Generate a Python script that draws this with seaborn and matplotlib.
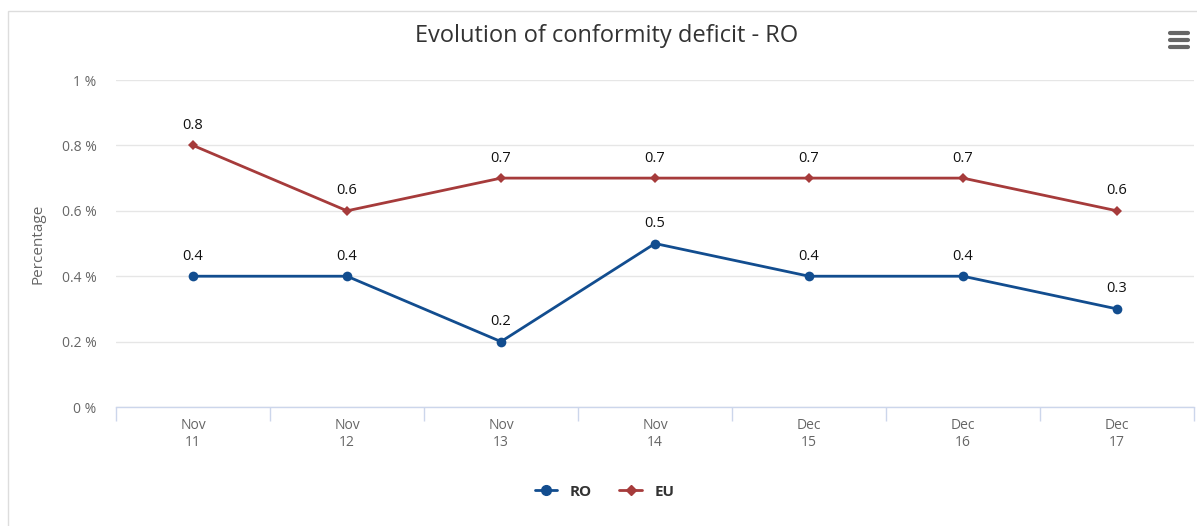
import matplotlib
matplotlib.use("Agg")
import matplotlib.pyplot as plt
import seaborn as sns
import pandas as pd
from matplotlib.patches import Rectangle
from matplotlib.lines import Line2D


# ==========================================
# DATA
# ==========================================

months = ["Nov", "Nov", "Nov", "Nov", "Dec", "Dec", "Dec"]

days = ["11", "12", "13", "14", "15", "16", "17"]

ro_values = [0.4, 0.4, 0.2, 0.5, 0.4, 0.4, 0.3]

eu_values = [0.8, 0.6, 0.7, 0.7, 0.7, 0.7, 0.6]

y_ticks = [0, 0.2, 0.4, 0.6, 0.8, 1.0]

y_tick_labels = ["0 %", "0.2 %", "0.4 %", "0.6 %", "0.8 %", "1 %"]

ro_color = "#124d8f"

eu_color = "#a63b3b"


# ==========================================
# PLOT
# ==========================================

sns.set_style("white")

plt.rcParams["font.family"] = ["Open Sans", "DejaVu Sans"]

labels = [f"{m}\n{d}" for m, d in zip(months, days)]

df = pd.DataFrame({
    "pos": list(range(len(labels))) * 2,
    "value": ro_values + eu_values,
    "series": ["RO"] * len(ro_values) + ["EU"] * len(eu_values),
})

fig = plt.figure(figsize=(11.97, 5.26), dpi=100)

ax = fig.add_axes([0.0969, 0.2262, 0.9006, 0.6217])

sns.lineplot(
    data=df,
    x="pos",
    y="value",
    hue="series",
    style="series",
    markers={"RO": "o", "EU": "D"},
    dashes=False,
    palette={"RO": ro_color, "EU": eu_color},
    linewidth=2,
    markersize=7,
    markeredgewidth=0,
    ax=ax,
    legend=False,
)

# smaller diamonds for EU
for line in ax.lines:
    if line.get_marker() == "D":
        line.set_markersize(5.5)

for i, v in enumerate(ro_values):
    ax.annotate(
        f"{v}", (i, v), xytext=(0, 9), textcoords="offset points",
        ha="center", va="bottom", fontsize=10.5, color="#111111",
    )

for i, v in enumerate(eu_values):
    ax.annotate(
        f"{v}", (i, v), xytext=(0, 9), textcoords="offset points",
        ha="center", va="bottom", fontsize=10.5, color="#111111",
    )

ax.set_xlim(-0.5, len(labels) - 0.5)
ax.set_ylim(0, 1.0)

ax.set_yticks(y_ticks)
ax.set_yticklabels(y_tick_labels, fontsize=10, color="#666666")
ax.yaxis.grid(True, color="#e6e6e6", linewidth=1)
ax.tick_params(axis="y", length=0, pad=14)

ax.set_xticks(range(len(labels)))
ax.set_xticklabels(labels, fontsize=10, color="#666666", linespacing=1.2)
ax.set_xticks([i - 0.5 for i in range(len(labels) + 1)], minor=True)
ax.tick_params(axis="x", which="major", bottom=False, length=0, pad=8)
ax.tick_params(axis="x", which="minor", bottom=True, direction="out",
               length=10, color="#ccd6eb", width=1)

for side in ["top", "right", "left"]:
    ax.spines[side].set_visible(False)
ax.spines["bottom"].set_color("#ccd6eb")
ax.spines["bottom"].set_linewidth(1)

ax.set_xlabel("")
ax.set_ylabel("Percentage", fontsize=11, color="#666666", labelpad=12)

fig.text(
    0.507, 1 - 36 / 526, "Evolution of conformity deficit - RO",
    ha="center", va="center", fontsize=17, color="#333333",
)

# legend
handles = [
    Line2D([0], [0], color=ro_color, marker="o", markersize=7, linewidth=2),
    Line2D([0], [0], color=eu_color, marker="D", markersize=5, linewidth=2),
]
leg = fig.legend(
    handles, ["RO", "EU"], loc="center", bbox_to_anchor=(0.505, 0.065),
    ncol=2, frameon=False, handlelength=1.5, columnspacing=1.8,
    prop={"weight": "bold", "size": 11},
)
for t in leg.get_texts():
    t.set_color("#333333")

# outer frame
fig.patches.append(Rectangle(
    (8 / 1197, -0.01), 1.1, 1 - 11 / 526 + 0.01,
    transform=fig.transFigure, fill=False, edgecolor="#dddddd", linewidth=1,
))

# menu icon
for yy in [33, 40, 47]:
    fig.lines.append(Line2D(
        [1170 / 1197, 1188 / 1197], [1 - yy / 526] * 2,
        transform=fig.transFigure, color="#666666", linewidth=3,
        solid_capstyle="round",
    ))

plt.savefig("out.png", dpi=100)
